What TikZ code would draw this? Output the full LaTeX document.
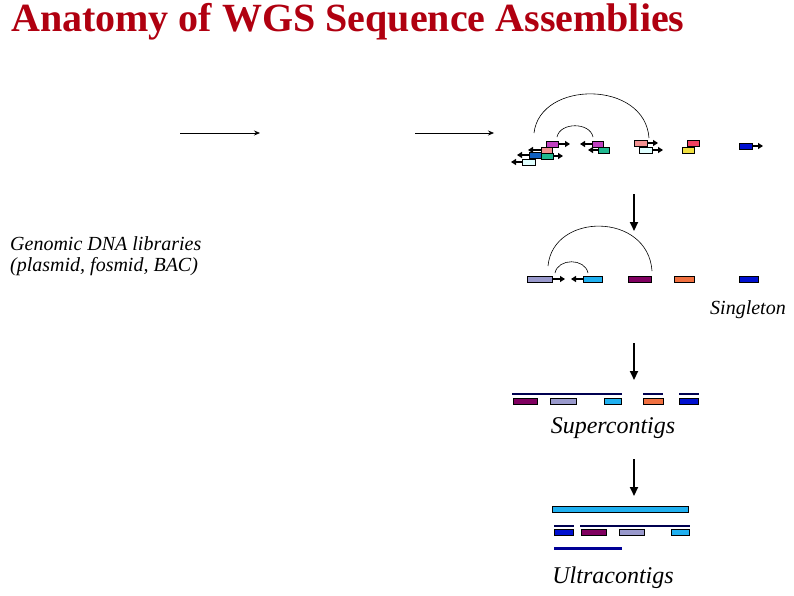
\documentclass[tikz,border=0pt]{standalone}
\usepackage{fontspec}
\setmainfont{Liberation Serif}
\usetikzlibrary{arrows.meta}
\definecolor{titlered}{HTML}{B00010}
\definecolor{cMag}{HTML}{C040C0}
\definecolor{cPink}{HTML}{F09090}
\definecolor{cBlue}{HTML}{1060C0}
\definecolor{cGreen}{HTML}{20B890}
\definecolor{cLCyan}{HTML}{E0FFFF}
\definecolor{cRed}{HTML}{F04060}
\definecolor{cYel}{HTML}{F0E040}
\definecolor{cDBlue}{HTML}{0010D0}
\definecolor{cLav}{HTML}{9999CC}
\definecolor{cCyan}{HTML}{20B0F0}
\definecolor{cPurp}{HTML}{800060}
\definecolor{cOra}{HTML}{F07040}
\definecolor{cNavy}{HTML}{000050}
\tikzset{
  box/.style={draw=black,line width=0.6pt,inner sep=0pt,minimum height=6pt},
  ar/.style={line width=1.5pt,-{Triangle[length=5pt,width=6pt]}},
  bigar/.style={line width=2pt,-{Triangle[length=9pt,width=8pt]}},
  thin ar/.style={line width=0.7pt,-{Stealth[length=6pt,width=5pt]}},
  arc/.style={line width=0.6pt},
  bar/.style={line width=2.5pt,cNavy},
  lbl/.style={font=\itshape\fontsize{20}{22}\selectfont,anchor=west,inner sep=0pt},
  big lbl/.style={font=\itshape\fontsize{24}{26}\selectfont,inner sep=0pt},
}
\begin{document}
\begin{tikzpicture}[x=1pt,y=-1pt]
\useasboundingbox (0,0) rectangle (794,595);
\node[anchor=west,inner sep=0pt,text=titlered,font=\bfseries\fontsize{40}{44}\selectfont] (title) at (11,22) {Anatomy of WGS Sequence Assemblies};
% left arrows
\coordinate (a1s) at (180,133); \coordinate (a1e) at (260,133);
\coordinate (a2s) at (415,133); \coordinate (a2e) at (494,133);
\draw[thin ar] (a1s) -- (a1e);
\draw[thin ar] (a2s) -- (a2e);
\node[lbl] (gen1) at (10,244) {Genomic DNA libraries};
\node[lbl] (gen2) at (10,267) {(plasmid, fosmid, BAC)};
% top row
\node[box,fill=cMag,minimum width=12pt] (m1) at (552,144) {};
\node[box,fill=cPink,minimum width=11pt] (p1) at (546.5,150) {};
\node[box,fill=cBlue,minimum width=12pt] (b1) at (535,155) {};
\node[box,fill=cGreen,minimum width=12pt] (g1) at (547,156) {};
\node[box,fill=cLCyan,minimum width=13pt] (c1) at (528.5,162) {};
\draw[ar] (m1.east) -- (570,144);
\draw[ar] (p1.west) -- (528,150);
\draw[ar] (b1.west) -- (517,155);
\draw[ar] (g1.east) -- (563,156);
\draw[ar] (c1.west) -- (511,162);
\node[box,fill=cMag,minimum width=11pt] (m2) at (597.5,144) {};
\node[box,fill=cGreen,minimum width=11pt] (g2) at (603.5,150) {};
\draw[ar] (m2.west) -- (580,144);
\draw[ar] (g2.west) -- (588,150);
\node[box,fill=cPink,minimum width=13pt] (p2) at (640.5,143) {};
\node[box,fill=cLCyan,minimum width=13pt] (c2) at (645.5,150) {};
\draw[ar] (p2.east) -- (658,143);
\draw[ar] (c2.east) -- (663,150);
\node[box,fill=cRed,minimum width=12pt] (r1) at (693,143) {};
\node[box,fill=cYel,minimum width=12pt] (y1) at (688,150) {};
\node[box,fill=cDBlue,minimum width=13pt] (d1) at (745.5,146) {};
\draw[ar] (d1.east) -- (763,146);
\coordinate (sa1) at (557,137); \coordinate (sa2) at (593,137);
\draw[arc] (sa1) .. controls (560,122) and (590,122) .. (sa2);
\coordinate (ba1) at (534,133); \coordinate (ba2) at (649,138);
\draw[arc] (ba1) .. controls (540,80) and (645,80) .. (ba2);
% down arrow 1
\coordinate (d1s) at (634,194); \coordinate (d1e) at (634,231);
\draw[bigar] (d1s) -- (d1e);
% second row
\node[box,fill=cLav,minimum width=25pt] (l2) at (539.5,279) {};
\node[box,fill=cCyan,minimum width=19pt] (cy2) at (592.5,279) {};
\draw[ar] (l2.east) -- (565,279);
\draw[ar] (cy2.west) -- (571,279);
\node[box,fill=cPurp,minimum width=23pt] (pu2) at (639.5,279) {};
\node[box,fill=cOra,minimum width=20pt] (o2) at (684,279) {};
\node[box,fill=cDBlue,minimum width=19pt] (d2) at (748.5,279) {};
\coordinate (s2a) at (555,273); \coordinate (s2b) at (588,273);
\draw[arc] (s2a) .. controls (558,258) and (585,258) .. (s2b);
\coordinate (b2a) at (548,266); \coordinate (b2b) at (652,271);
\draw[arc] (b2a) .. controls (553,212) and (648,212) .. (b2b);
\node[lbl] (single) at (710,310) {Singleton};
% down arrow 2
\coordinate (d2s) at (634,343); \coordinate (d2e) at (634,380);
\draw[bigar] (d2s) -- (d2e);
% supercontigs
\coordinate (sc1a) at (512,394); \coordinate (sc1b) at (622,394);
\coordinate (sc2a) at (643,394); \coordinate (sc2b) at (663,394);
\coordinate (sc3a) at (679,394); \coordinate (sc3b) at (699,394);
\draw[bar] (sc1a) -- (sc1b);
\draw[bar] (sc2a) -- (sc2b);
\draw[bar] (sc3a) -- (sc3b);
\node[box,fill=cPurp,minimum width=24pt] (s3p) at (525,401) {};
\node[box,fill=cLav,minimum width=26pt] (s3l) at (563,401) {};
\node[box,fill=cCyan,minimum width=17pt] (s3c) at (612.5,401) {};
\node[box,fill=cOra,minimum width=20pt] (s3o) at (653,401) {};
\node[box,fill=cDBlue,minimum width=19pt] (s3d) at (688.5,401) {};
\node[big lbl] (super) at (613,428) {Supercontigs};
% down arrow 3
\coordinate (d3s) at (634,459); \coordinate (d3e) at (634,496);
\draw[bigar] (d3s) -- (d3e);
% ultracontigs
\node[box,fill=cCyan,minimum width=136pt,minimum height=5.5pt] (uc) at (620,509.5) {};
\coordinate (u1a) at (554,526); \coordinate (u1b) at (574,526);
\coordinate (u2a) at (580,526); \coordinate (u2b) at (690,526);
\draw[bar] (u1a) -- (u1b);
\draw[bar] (u2a) -- (u2b);
\node[box,fill=cDBlue,minimum width=19pt] (u3d) at (563.5,532) {};
\node[box,fill=cPurp,minimum width=25pt] (u3p) at (593.5,532) {};
\node[box,fill=cLav,minimum width=25pt] (u3l) at (631.5,532) {};
\node[box,fill=cCyan,minimum width=18pt] (u3c) at (680,532) {};
\coordinate (u4a) at (554,548); \coordinate (u4b) at (622,548);
\draw[line width=3pt,cNavy!60!blue] (u4a) -- (u4b);
\node[big lbl] (ultra) at (613,578) {Ultracontigs};
\end{tikzpicture}
\end{document}
